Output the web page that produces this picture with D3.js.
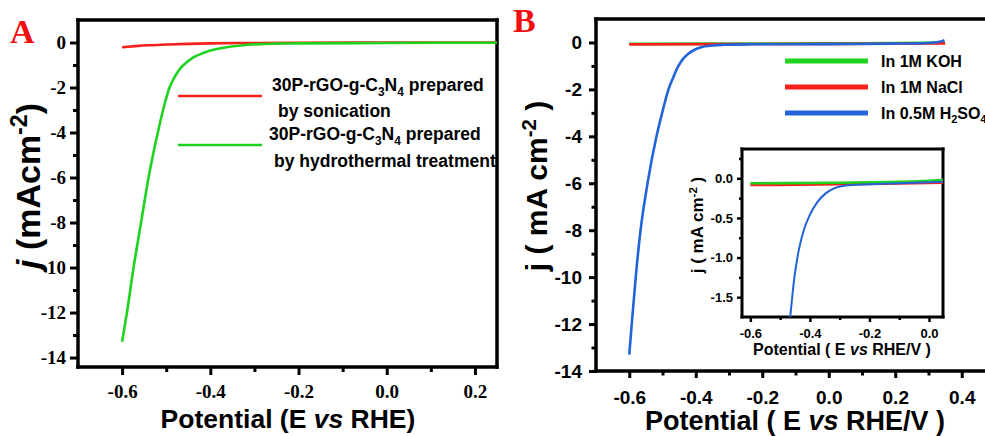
<!DOCTYPE html>
<html>
<head>
<meta charset="utf-8">
<script src="https://cdn.jsdelivr.net/npm/d3@7"></script>
<style>
  body { margin: 0; background: #fff; }
</style>
</head>
<body>
<div id="chart"></div>
<script>
// ---- panel A : LSV of the two preparations ----
const aSonicE = [-0.6, -0.57, -0.54, -0.5, -0.45, -0.4, -0.3, -0.2, 0, 0.25];
const aSonicJ = [-0.21, -0.16, -0.12, -0.09, -0.06, -0.04, -0.02, -0.01, 0, 0];
const aHydroE = [-0.6, -0.589, -0.574, -0.557, -0.540, -0.519, -0.5045, -0.4925, -0.48, -0.468, -0.455, -0.44, -0.42, -0.40, -0.375, -0.349, -0.32, -0.29, -0.25, -0.2, 0, 0.25];
const aHydroJ = [-13.3, -12, -10, -8, -6, -4, -2.8, -2.0, -1.5, -1.15, -0.9, -0.68, -0.5, -0.36, -0.25, -0.17, -0.11, -0.07, -0.05, -0.04, -0.02, -0.01];

// ---- panel B : three electrolytes ----
const bKohE = [-0.6, -0.3, 0, 0.2, 0.35];
const bKohJ = [-0.06, -0.05, -0.04, -0.02, 0.0];
const bNaclE = [-0.6, -0.3, 0, 0.35];
const bNaclJ = [-0.08, -0.07, -0.06, -0.04];
const bAcidE = [-0.6, -0.5925, -0.5805, -0.566, -0.545, -0.518, -0.501, -0.482, -0.468, -0.452, -0.438, -0.424, -0.402, -0.384, -0.35, -0.315, -0.25, 0, 0.2, 0.3, 0.33, 0.348];
const bAcidJ = [-13.3, -12, -10, -8, -6, -4, -3, -2, -1.5, -1, -0.7, -0.5, -0.3, -0.2, -0.13, -0.1, -0.08, -0.07, -0.05, -0.02, 0.02, 0.1];

// ---- inset (zoom of panel B) ----
const iKohE = [-0.6, -0.3, -0.1, 0, 0.047];
const iKohJ = [-0.063, -0.055, -0.045, -0.03, -0.02];
const iNaclE = [-0.6, -0.3, -0.2, 0.047];
const iNaclJ = [-0.085, -0.075, -0.07, -0.055];
const iAcidE = [-0.466, -0.452, -0.437, -0.42, -0.4, -0.375, -0.347, -0.315, -0.28, -0.2, -0.1, 0, 0.047];
const iAcidJ = [-1.75, -1.25, -0.9, -0.65, -0.46, -0.3, -0.19, -0.12, -0.09, -0.075, -0.062, -0.05, -0.043];

// tick values
const aXMajor = [-0.6, -0.4, -0.2, 0.0, 0.2];
const aXMinor = [-0.5, -0.3, -0.1, 0.1];
const aYMajor = [0, -2, -4, -6, -8, -10, -12, -14];
const aYMinor = [-1, -3, -5, -7, -9, -11, -13];
const bXMajor = [-0.6, -0.4, -0.2, 0.0, 0.2, 0.4];
const bXMinor = [-0.5, -0.3, -0.1, 0.1, 0.3];
const bYMajor = [0, -2, -4, -6, -8, -10, -12, -14];
const bYMinor = [-1, -3, -5, -7, -9, -11, -13];
const iXMajor = [-0.6, -0.4, -0.2, 0.0];
const iXMinor = [-0.5, -0.3, -0.1];
const iYMajor = [0.0, -0.5, -1.0, -1.5];
const iYMinor = [0.25, -0.25, -0.75, -1.25];

const RED = "#f8201c", GREEN = "#1fd21f", BLUE = "#2264d8";
const SANS = "'Liberation Sans', Arial, sans-serif";
const SERIF = "'Liberation Serif', 'Times New Roman', serif";

const svg = d3.select("#chart").append("svg")
    .attr("width", 985)
    .attr("height", 436);

const zip = (xs, ys) => xs.map((v, i) => [v, ys[i]]);
const fmt1 = d => d3.format(".1f")(d).replace("\u2212", "-");
const fmt0 = d => d3.format("d")(d).replace("\u2212", "-");

// border of a plot area as four thin filled bars
function drawBox(g, x, y, sw) {
    const [l, r] = x.range();
    const [b, t] = y.range();
    const h = sw / 2;
    const bars = [
        [l - h, t - h, r - l + sw, sw],
        [l - h, b - h, r - l + sw, sw],
        [l - h, t - h, sw, b - t + sw],
        [r - h, t - h, sw, b - t + sw]
    ];
    bars.forEach(([bx, by, bw, bh]) => {
        g.append("rect").attr("x", bx).attr("y", by)
            .attr("width", bw).attr("height", bh).attr("fill", "#000");
    });
}

function axes(g, x, y, o) {
    const x0 = x.range()[0], y0 = y.range()[0];
    const styleTicks = (sel, w) => {
        sel.select(".domain").remove();
        sel.selectAll(".tick line").attr("stroke", "#000").attr("stroke-width", w);
    };
    // bottom
    g.append("g").attr("transform", `translate(0,${y0})`)
        .call(d3.axisBottom(x).tickValues(o.xMinor).tickSize(o.minor).tickFormat(""))
        .call(s => styleTicks(s, o.tw));
    const bx = g.append("g").attr("transform", `translate(0,${y0})`)
        .call(d3.axisBottom(x).tickValues(o.xMajor).tickSize(o.major).tickPadding(o.padX).tickFormat(fmt1))
        .call(s => styleTicks(s, o.tw));
    bx.selectAll("text").attr("font-family", o.font).attr("font-size", o.fs)
        .attr("font-weight", "bold").attr("fill", "#000");
    // left
    g.append("g").attr("transform", `translate(${x0},0)`)
        .call(d3.axisLeft(y).tickValues(o.yMinor).tickSize(o.minor).tickFormat(""))
        .call(s => styleTicks(s, o.tw));
    const ly = g.append("g").attr("transform", `translate(${x0},0)`)
        .call(d3.axisLeft(y).tickValues(o.yMajor).tickSize(o.major).tickPadding(o.padY).tickFormat(o.yFmt))
        .call(s => styleTicks(s, o.tw));
    ly.selectAll("text").attr("font-family", o.font).attr("font-size", o.fs)
        .attr("font-weight", "bold").attr("fill", "#000");
}

function curve(g, x, y, xs, ys, color, w) {
    g.append("path")
        .datum(zip(xs, ys))
        .attr("fill", "none")
        .attr("stroke", color)
        .attr("stroke-width", w)
        .attr("stroke-linejoin", "round")
        .attr("d", d3.line().x(d => x(d[0])).y(d => y(d[1])).curve(d3.curveMonotoneX));
}

// rich text: parts = [[text, "sub"|"sup"|null, italic?]]
function rich(t, parts, fs) {
    let shift = 0;
    parts.forEach(([txt, kind, it]) => {
        const want = kind === "sub" ? fs * 0.28 : kind === "sup" ? -fs * 0.38 : 0;
        const ts = t.append("tspan").text(txt).attr("dy", want - shift);
        if (kind) ts.attr("font-size", fs * 0.68);
        if (it) ts.attr("font-style", "italic");
        shift = want;
    });
}

// ================= panel A =================
const xA = d3.scaleLinear().domain([-0.7, 0.25]).range([78, 497]);
const yA = d3.scaleLinear().domain([-14.42, 1]).range([367, 20]);
const gA = svg.append("g");
drawBox(gA, xA, yA, 3.5);
curve(gA, xA, yA, aSonicE, aSonicJ, RED, 2.6);
curve(gA, xA, yA, aHydroE, aHydroJ, GREEN, 2.6);
axes(gA, xA, yA, {
    xMajor: aXMajor, xMinor: aXMinor, yMajor: aYMajor, yMinor: aYMinor,
    major: 8, minor: 5, tw: 3, padX: 10, padY: 4, font: SERIF, fs: 19, yFmt: fmt0
});

// legend A
const legA = [
    { c: RED, y: 96, l1: 91, l2: 117, x1: 272, x2: 278, t2: "by sonication" },
    { c: GREEN, y: 145, l1: 140, l2: 167, x1: 269, x2: 274, t2: "by hydrothermal treatment" }
];
legA.forEach(d => {
    gA.append("line").attr("x1", 178).attr("x2", 262).attr("y1", d.y).attr("y2", d.y)
        .attr("stroke", d.c).attr("stroke-width", 2.6);
    const t1 = gA.append("text").attr("x", d.x1).attr("y", d.l1)
        .attr("font-family", SANS).attr("font-size", 17.5).attr("font-weight", "bold");
    rich(t1, [["30P-rGO-g-C"], ["3", "sub"], ["N"], ["4", "sub"], [" prepared"]], 17.5);
    gA.append("text").attr("x", d.x2).attr("y", d.l2)
        .attr("font-family", SANS).attr("font-size", 17.5).attr("font-weight", "bold")
        .text(d.t2);
});

gA.append("text").attr("x", 288).attr("y", 428).attr("text-anchor", "middle")
    .attr("font-family", SANS).attr("font-size", 26.5).attr("font-weight", "bold")
    .call(t => rich(t, [["Potential (E "], ["vs", null, true], [" RHE)"]], 26.5));
gA.append("text").attr("transform", "translate(40,186) rotate(-90)").attr("text-anchor", "middle")
    .attr("font-family", SANS).attr("font-size", 34).attr("font-weight", "bold")
    .call(t => rich(t, [["j", null, true], [" (mAcm"], ["-2", "sup"], [")"]], 34));
gA.append("text").attr("x", 10).attr("y", 43)
    .attr("font-family", SERIF).attr("font-size", 34).attr("font-weight", "bold")
    .attr("fill", "#f01010").text("A");

// ================= panel B =================
const xB = d3.scaleLinear().domain([-0.7, 0.5]).range([596, 995]);
const yB = d3.scaleLinear().domain([-14, 1]).range([371, 19]);
const gB = svg.append("g");
drawBox(gB, xB, yB, 3.5);
curve(gB, xB, yB, bKohE, bKohJ, GREEN, 2.6);
curve(gB, xB, yB, bNaclE, bNaclJ, RED, 2.6);
curve(gB, xB, yB, bAcidE, bAcidJ, BLUE, 2.6);
axes(gB, xB, yB, {
    xMajor: bXMajor, xMinor: bXMinor, yMajor: bYMajor, yMinor: bYMinor,
    major: 7, minor: 4.5, tw: 3, padX: 12.5, padY: 7, font: SANS, fs: 19, yFmt: fmt0
});

// legend B
const legB = [
    { c: GREEN, y: 61, parts: [["In 1M KOH"]] },
    { c: RED, y: 87, parts: [["In 1M NaCl"]] },
    { c: BLUE, y: 113, parts: [["In 0.5M H"], ["2", "sub"], ["SO"], ["4", "sub"]] }
];
legB.forEach(d => {
    gB.append("line").attr("x1", 785).attr("x2", 868).attr("y1", d.y).attr("y2", d.y)
        .attr("stroke", d.c).attr("stroke-width", 5);
    gB.append("text").attr("x", 881).attr("y", d.y + 5.5)
        .attr("font-family", SANS).attr("font-size", 16).attr("font-weight", "bold")
        .call(t => rich(t, d.parts, 16));
});

gB.append("text").attr("x", 795).attr("y", 430).attr("text-anchor", "middle")
    .attr("font-family", SANS).attr("font-size", 27).attr("font-weight", "bold")
    .call(t => rich(t, [["Potential ( E "], ["vs", null, true], [" RHE/V )"]], 27));
gB.append("text").attr("transform", "translate(547,186) rotate(-90)").attr("text-anchor", "middle")
    .attr("font-family", SANS).attr("font-size", 30).attr("font-weight", "bold")
    .call(t => rich(t, [["j ( mA cm"], ["-2", "sup"], [" )"]], 30));
gB.append("text").attr("x", 513).attr("y", 32)
    .attr("font-family", SERIF).attr("font-size", 34).attr("font-weight", "bold")
    .attr("fill", "#f01010").text("B");

// ================= inset =================
const xI = d3.scaleLinear().domain([-0.628, 0.047]).range([742, 943]);
const yI = d3.scaleLinear().domain([-1.75, 0.37]).range([317, 149]);
const gI = svg.append("g");
gI.append("rect").attr("x", 742).attr("y", 149).attr("width", 201).attr("height", 168).attr("fill", "#fff");
drawBox(gI, xI, yI, 3);
curve(gI, xI, yI, iNaclE, iNaclJ, RED, 2.6);
curve(gI, xI, yI, iKohE, iKohJ, GREEN, 2.6);
curve(gI, xI, yI, iAcidE, iAcidJ, BLUE, 2);
axes(gI, xI, yI, {
    xMajor: iXMajor, xMinor: iXMinor, yMajor: iYMajor, yMinor: iYMinor,
    major: 5, minor: 3, tw: 2.5, padX: 7, padY: 4, font: SANS, fs: 13, yFmt: fmt1
});
gI.append("text").attr("x", 842).attr("y", 355).attr("text-anchor", "middle")
    .attr("font-family", SANS).attr("font-size", 16).attr("font-weight", "bold")
    .call(t => rich(t, [["Potential ( E "], ["vs", null, true], [" RHE/V )"]], 16));
gI.append("text").attr("transform", "translate(703,225) rotate(-90)").attr("text-anchor", "middle")
    .attr("font-family", SANS).attr("font-size", 17).attr("font-weight", "bold")
    .call(t => rich(t, [["j ( mA cm"], ["-2", "sup"], [" )"]], 17));
</script>
</body>
</html>
